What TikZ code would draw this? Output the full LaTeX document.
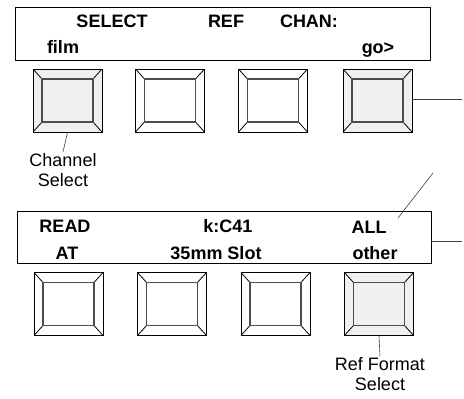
\documentclass[tikz,border=0pt]{standalone}
\usepackage{fontspec}
\setmainfont{Liberation Sans}
\tikzset{
  lcd/.style={draw, thick, minimum height=53pt, inner sep=0pt},
  lcdtext/.style={anchor=base, font=\fontsize{18}{20}\selectfont\bfseries, inner sep=0pt},
  keycap/.style={draw, thick, fill=#1, minimum width=69pt, minimum height=63pt, inner sep=0pt,
    path picture={
      \coordinate (nw) at (path picture bounding box.north west);
      \coordinate (ne) at (path picture bounding box.north east);
      \coordinate (sw) at (path picture bounding box.south west);
      \coordinate (se) at (path picture bounding box.south east);
      \draw (nw) -- ++(9pt,-10pt) (ne) -- ++(-9pt,-10pt)
            (sw) -- ++(9pt,10pt) (se) -- ++(-9pt,10pt);
      \draw[line width=1.4pt, black!70]
        ([shift={(9pt,-10pt)}]nw) rectangle ([shift={(-9pt,10pt)}]se);
    }},
  keycap/.default=white,
  callout/.style={align=center, font=\fontsize{18}{20}\selectfont, inner sep=1pt},
  leader/.style={draw, black!75, line width=0.6pt}
}
\begin{document}
\begin{tikzpicture}[x=1pt,y=-1pt]
  \useasboundingbox (0,0) rectangle (464,399);

  % obere Anzeige
  \node[lcd, minimum width=415pt] (lcdA) at (222.5,33.5) {};
  \node[lcdtext] (selT) at (112,27) {SELECT};
  \node[lcdtext] (refT) at (226,27) {REF};
  \node[lcdtext] (chanT) at (309,27) {CHAN:};
  \node[lcdtext] (filmT) at (63,53) {film};
  \node[lcdtext] (goT) at (378,53) {go>};

  % obere Tasten
  \node[keycap=gray!12] (keyA1) at (67.5,100.5) {};
  \node[keycap] (keyA2) at (170,100.5) {};
  \node[keycap] (keyA3) at (273,100.5) {};
  \node[keycap=gray!12] (keyA4) at (377.5,100.5) {};

  % untere Anzeige
  \node[lcd, minimum width=414pt, minimum height=52pt] (lcdB) at (224,237) {};
  \node[lcdtext] (readT) at (65,232) {READ};
  \node[lcdtext] (kcT) at (228,232) {k:C41};
  \node[lcdtext] (allT) at (369,233) {ALL};
  \node[lcdtext] (atT) at (67,259) {AT};
  \node[lcdtext] (slotT) at (216,259) {35mm Slot};
  \node[lcdtext] (otherT) at (375,259) {other};

  % untere Tasten
  \node[keycap] (keyB1) at (68.5,304) {};
  \node[keycap] (keyB2) at (172,304) {};
  \node[keycap] (keyB3) at (275.5,304) {};
  \node[keycap=gray!12] (keyB4) at (379,304) {};

  % Beschriftungen
  \node[callout, anchor=north] (chanSel) at (63,152) {Channel\\Select};
  \node[callout, anchor=north] (fmtSel) at (380,356) {Ref Format\\Select};

  \coordinate (edgeA) at (462,99);
  \coordinate (edgeB) at (462,241);
  \coordinate (tipC) at (433,173);
  \coordinate (tipD) at (398,218);

  \draw[leader] (keyA1.south) -- (chanSel.north);
  \draw[leader] (keyB4.south) -- (fmtSel.north);
  \draw[leader] (keyA4.east |- edgeA) -- (edgeA);
  \draw[leader] (lcdB.east |- edgeB) -- (edgeB);
  \draw[leader] (tipC) -- (tipD);
\end{tikzpicture}
\end{document}
